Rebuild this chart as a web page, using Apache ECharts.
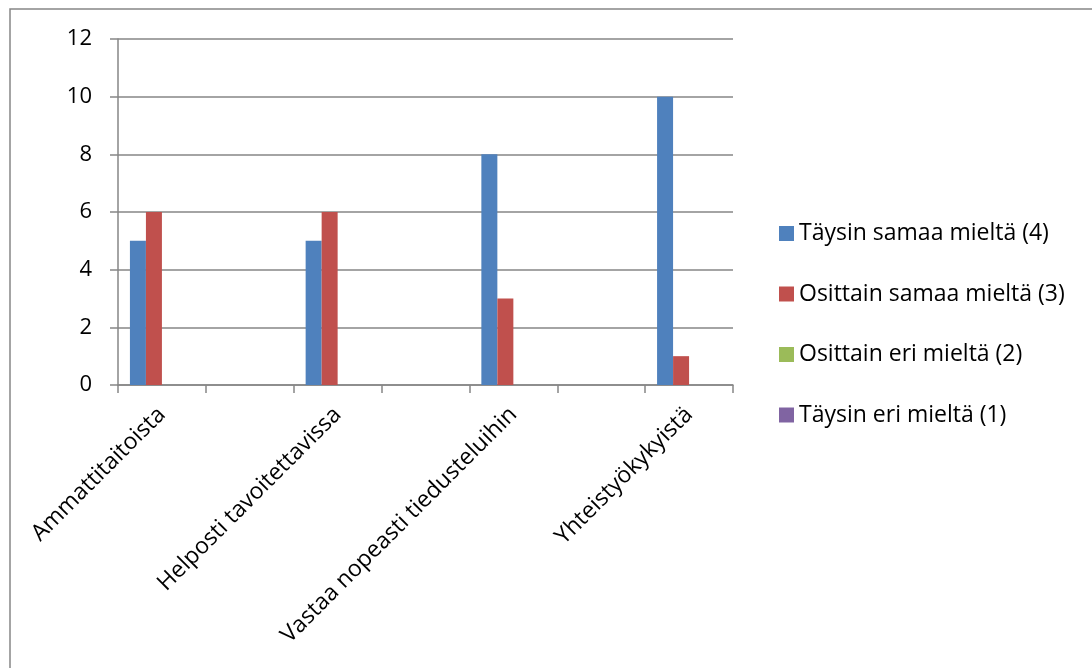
<!DOCTYPE html>
<html>
<head>
<meta charset="utf-8">
<script src="https://cdn.jsdelivr.net/npm/echarts@6/dist/echarts.min.js"></script>
<style>
  html, body { margin: 0; padding: 0; background: #fff; }
  #chart { width: 1092px; height: 668px; }
</style>
</head>
<body>
<div id="chart"></div>
<script>
// Categories: blank slots separate the four questions
const categories = ['Ammattitaitoista', '', 'Helposti tavoitettavissa', '', 'Vastaa nopeasti tiedusteluihin', '', 'Yhteistyökykyistä'];
const seriesNames = ['Täysin samaa mieltä (4)', 'Osittain samaa mieltä (3)', 'Osittain eri mieltä (2)', 'Täysin eri mieltä (1)'];
const taysinSamaa = [5, '-', 5, '-', 8, '-', 10];
const osittainSamaa = [6, '-', 6, '-', 3, '-', 1];
const osittainEri = [0, '-', 0, '-', 0, '-', 0];
const taysinEri = [0, '-', 0, '-', 0, '-', 0];
const yTicks = { min: 0, max: 12, interval: 2 };

const colors = ['#4F81BD', '#C0504D', '#9BBB59', '#8064A2'];
const values = [taysinSamaa, osittainSamaa, osittainEri, taysinEri];
const font = 'Open Sans';
const axisGray = '#868686';

const chart = echarts.init(document.getElementById('chart'), null, { renderer: 'canvas' });

chart.setOption({
  animation: false,
  color: colors,
  textStyle: { fontFamily: font },
  grid: { left: 118, right: 359, top: 39, bottom: 283, containLabel: false },
  legend: {
    orient: 'vertical',
    left: 774,
    top: 217,
    itemWidth: 15,
    itemHeight: 15,
    itemGap: 37.5,
    icon: 'rect',
    textStyle: { fontFamily: font, fontSize: 23, color: '#000', padding: [0, 0, 0, 0] },
    data: seriesNames
  },
  xAxis: {
    type: 'category',
    data: categories,
    axisLine: { lineStyle: { color: axisGray, width: 1.5 } },
    axisTick: { show: true, interval: 0, length: 8, lineStyle: { color: axisGray, width: 1.5 } },
    axisLabel: { interval: 1, rotate: 45, fontSize: 23, color: '#000', margin: 26, fontFamily: font }
  },
  yAxis: {
    type: 'value',
    min: yTicks.min,
    max: yTicks.max,
    interval: yTicks.interval,
    axisLine: { show: true, lineStyle: { color: axisGray, width: 1.5 } },
    axisTick: { show: true, length: 8, lineStyle: { color: axisGray, width: 1.5 } },
    axisLabel: { fontSize: 22, color: '#000', margin: 26, fontFamily: font },
    splitLine: { lineStyle: { color: axisGray, width: 1.5 } }
  },
  series: seriesNames.map((name, i) => ({
    name,
    type: 'bar',
    data: values[i],
    barWidth: 16,
    barGap: '0%',
    itemStyle: { color: colors[i] }
  })),
  graphic: [
    {
      type: 'polyline',
      shape: { points: [[10, 700], [10, 9], [1100, 9]] },
      style: { stroke: axisGray, lineWidth: 1.5, fill: null },
      silent: true
    }
  ]
});
</script>
</body>
</html>
